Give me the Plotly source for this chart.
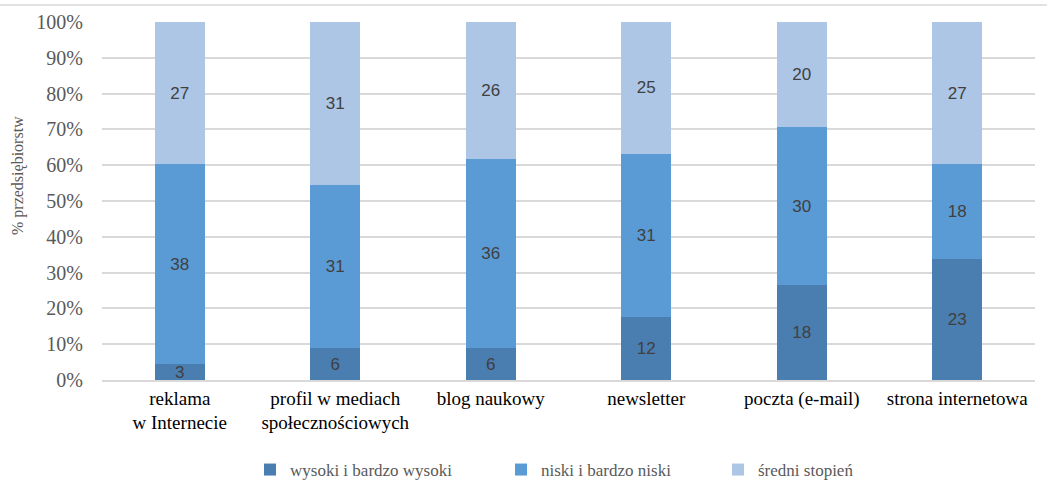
import plotly.graph_objects as go

categories = ["reklama<br>w Internecie", "profil w mediach<br>społecznościowych", "blog naukowy",
              "newsletter", "poczta (e-mail)", "strona internetowa"]
wysoki = [3, 6, 6, 12, 18, 23]
niski = [38, 31, 36, 31, 30, 18]
sredni = [27, 31, 26, 25, 20, 27]
series_names = ["wysoki i bardzo wysoki", "niski i bardzo niski", "średni stopień"]
colors = ["#4a7db0", "#5b9bd5", "#adc6e6"]
y_ticks = [0, 10, 20, 30, 40, 50, 60, 70, 80, 90, 100]

SERIF = "Liberation Serif"
L, R, T, B = 102, 12, 22, 105
W, H = 1047, 485
pw, ph = W - L - R, H - T - B

legend_ids = ["legend", "legend2", "legend3"]
legend_text_x = [295, 546, 763]   # pixel x where legend text starts
legend_y_px = 470

fig = go.Figure()
for name, vals, col, lid in zip(series_names, [wysoki, niski, sredni], colors, legend_ids):
    fig.add_trace(go.Bar(
        x=categories, y=vals, name=name, legend=lid, showlegend=True,
        marker=dict(color=col, line=dict(width=0)),
        text=[str(v) for v in vals], textposition="inside", insidetextanchor="middle",
        textangle=0, constraintext="none",
        textfont=dict(family="Liberation Sans", size=17, color="#404040"),
        width=0.32, hoverinfo="skip"))

legend_common = dict(orientation="h", xanchor="left", yanchor="middle",
                     font=dict(family=SERIF, size=17, color="#595959"),
                     itemwidth=30, bgcolor="rgba(0,0,0,0)", visible=True)
layout_legends = {}
for lid, tx in zip(legend_ids, legend_text_x):
    layout_legends[lid] = dict(legend_common, x=(tx - 45 - L) / pw, y=(H - B - legend_y_px) / ph)

fig.update_layout(
    showlegend=True,
    barmode="stack", barnorm="percent",
    width=W, height=H, margin=dict(l=L, r=R, t=T, b=B, autoexpand=False),
    paper_bgcolor="white", plot_bgcolor="white",
    font=dict(family=SERIF, color="#000000"),
    xaxis=dict(tickfont=dict(family=SERIF, size=19, color="#000000"), showgrid=False,
               showline=True, linecolor="#d9d9d9", linewidth=1.5, ticks="", automargin=False),
    yaxis=dict(range=[0, 100], tickvals=y_ticks, ticktext=[f"{v}%" for v in y_ticks],
               tickfont=dict(family=SERIF, size=20, color="#595959"), showgrid=True,
               gridcolor="#d9d9d9", gridwidth=1.5, zeroline=False, ticks="", automargin=False,
               ticklabelstandoff=18),
    annotations=[dict(text="% przedsiębiorstw", textangle=-90, showarrow=False,
                      xref="paper", yref="paper", x=(18 - L) / pw, y=(H - B - 176) / ph,
                      xanchor="center", yanchor="middle",
                      font=dict(family=SERIF, size=16, color="#595959"))],
    shapes=[dict(type="line", xref="paper", yref="paper",
                 x0=-L / pw, x1=(W - L) / pw, y0=(H - B - 5) / ph, y1=(H - B - 5) / ph,
                 line=dict(color="#d9d9d9", width=1.5))],
    **layout_legends,
)
fig.write_html("out.html")
